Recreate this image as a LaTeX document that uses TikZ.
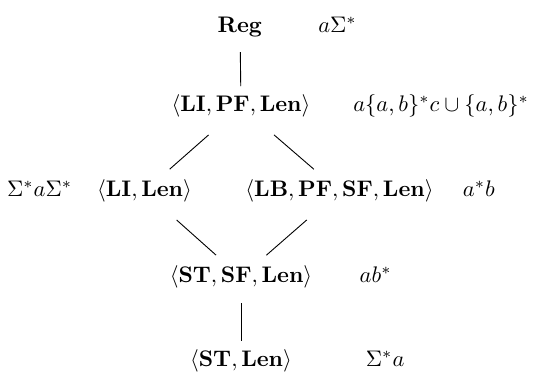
\documentclass[tikz,border=0pt]{standalone}
\usepackage{amssymb}
\usepackage{tikz}
\usetikzlibrary{positioning}

\begin{document}
\begin{tikzpicture}[
  x=0.444pt, y=-0.444pt,
  class/.style={anchor=base},
  lang/.style={inner sep=3.33pt},
  cover/.style={shorten <=3pt, shorten >=0.4pt},
  slant/.style={shorten <=6.3pt, shorten >=2pt}
]
\useasboundingbox (0,0) rectangle (534,373);
% lattice of classes
\node[class] (reg) at (240,33) {$\mathbf{Reg}$};
\node[class] (lipf) at (241,112) {$\langle\mathbf{LI},\mathbf{PF},\mathbf{Len}\rangle$};
\node[class] (lilen) at (144.5,197) {$\langle\mathbf{LI},\mathbf{Len}\rangle$};
\node[class] (lbpf) at (339.5,197) {$\langle\mathbf{LB},\mathbf{PF},\mathbf{SF},\mathbf{Len}\rangle$};
\node[class] (stsf) at (241,283) {$\langle\mathbf{ST},\mathbf{SF},\mathbf{Len}\rangle$};
\node[class] (stlen) at (241,367) {$\langle\mathbf{ST},\mathbf{Len}\rangle$};
% example languages
\node[lang, base right=17.8pt of reg] (regex) {$a\Sigma^*$};
\node[lang, base right=12pt of lipf] (lipfex) {$a\{a,b\}^*c\cup\{a,b\}^*$};
\node[lang, base left=4pt of lilen] (lilenex) {$\Sigma^*a\Sigma^*$};
\node[lang, base right=6pt of lbpf] (lbpfex) {$a^*b$};
\node[lang, base right=14pt of stsf] (stsfex) {$ab^*$};
\node[lang, base right=25.8pt of stlen] (stlenex) {$\Sigma^*a$};
\draw[cover] (reg) -- (lipf);
\draw[slant] (lipf) -- (lilen);
\draw[slant] (lipf) -- (lbpf);
\draw[slant] (lilen) -- (stsf);
\draw[slant] (lbpf) -- (stsf);
\draw[cover] (stsf) -- (stlen);
\end{tikzpicture}
\end{document}
